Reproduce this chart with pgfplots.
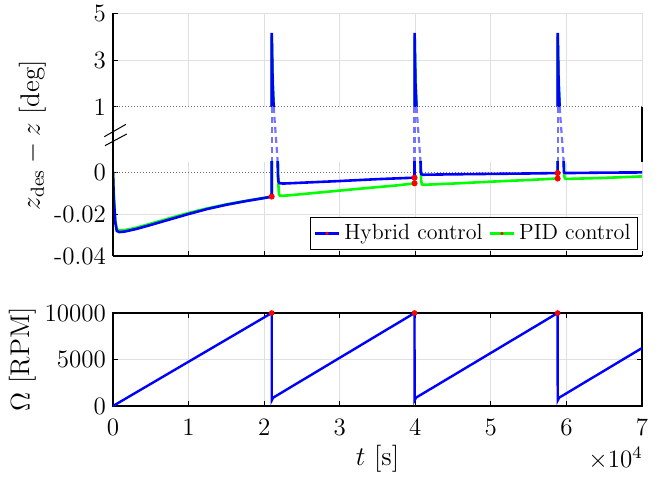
\RequirePackage{fix-cm}
\documentclass[border=0pt]{standalone}
\usepackage{fontspec}
\usepackage{pgfplots}
\usepackage{pgfplotstable}
\pgfplotsset{compat=1.18}
\definecolor{gridgray}{gray}{0.88}
\definecolor{dotgray}{gray}{0.45}

\pgfplotstableread{
t v
0 0
0.01 -0.012
0.03 -0.024
0.05 -0.0280
0.08 -0.0286
0.15 -0.0284
0.3 -0.0272
0.5 -0.0252
0.75 -0.0226
1.0 -0.0200
1.25 -0.0176
1.5 -0.0156
1.75 -0.0139
2.0 -0.0124
2.100 -0.0117
2.101 4.15
2.112 2.0
2.126 1.0
2.179 0.005
2.183 -0.002
2.190 -0.0045
2.200 -0.0053
2.25 -0.0055
2.5 -0.0051
3.0 -0.0043
3.5 -0.0034
3.99 -0.0027
3.991 4.15
4.002 2.0
4.016 1.0
4.069 0.005
4.073 -0.0001
4.08 -0.0010
4.1 -0.0013
4.5 -0.0011
5.0 -0.0009
5.5 -0.0007
5.884 -0.0005
5.885 4.15
5.896 2.0
5.910 1.0
5.963 0.005
5.967 0.0000
5.975 -0.0004
6.0 -0.0005
6.5 -0.0003
7.0 -0.0002
}\hybrid

\pgfplotstableread{
t v
0 0
0.01 -0.011
0.03 -0.023
0.05 -0.0272
0.08 -0.0278
0.15 -0.0277
0.3 -0.0266
0.5 -0.0246
0.75 -0.0220
1.0 -0.0195
1.25 -0.0173
1.5 -0.0154
1.75 -0.0138
2.0 -0.0123
2.100 -0.0117
2.101 4.0
2.115 2.0
2.128 1.0
2.182 0.005
2.188 -0.006
2.196 -0.0105
2.21 -0.0113
2.3 -0.0112
2.75 -0.0097
3.25 -0.0080
3.75 -0.0064
3.99 -0.0054
3.991 4.0
4.005 2.0
4.018 1.0
4.072 0.005
4.078 -0.004
4.086 -0.0058
4.1 -0.0061
4.5 -0.0055
5.0 -0.0046
5.5 -0.0038
5.884 -0.0031
5.885 4.0
5.899 2.0
5.912 1.0
5.966 0.005
5.972 -0.002
5.980 -0.0031
6.0 -0.0033
6.5 -0.0028
7.0 -0.0021
}\pid

\pgfplotstableread{
t v
2.100 -0.0117
3.99 -0.0027
3.99 -0.0054
5.884 -0.0005
5.884 -0.0031
}\switchpts

\pgfplotstableread{
t w
0 0
2.100 10000
2.1005 600
2.12 900
3.99 10000
3.9905 600
4.01 900
5.884 10000
5.8845 600
5.904 900
7 6230
}\omega

\pgfplotsset{
  base/.style={
    scale only axis, width=264.5pt, xmin=0, xmax=7,
    anchor=south west,
    axis line style={draw=none},
    tick label style={font=\fontsize{12.5}{15}\selectfont},
    grid=major, grid style={gridgray, line width=0.5pt},
    major tick length=2.5pt, tick style={black, line width=0.5pt},
    xtick={0,...,7},
  }
}

\begin{document}
\begin{tikzpicture}
\useasboundingbox (-56.5pt,-35.5pt) rectangle (277pt,203pt);

% upper part of broken axis
\begin{axis}[base, at={(0pt,149.5pt)}, height=47pt,
  ymin=1, ymax=5, ytick={3,5},
  extra y ticks={1}, extra y tick style={grid=none},
  xticklabels={}, ytick pos=left, xtick style={draw=none}]
  \addplot[green, line width=1.3pt] table {\pid};
  \addplot[blue, line width=1.3pt] table {\hybrid};
  \draw[dotgray, densely dotted, line width=0.5pt] (rel axis cs:0,0) -- (rel axis cs:1,0);
\end{axis}

% gap between the two parts
\begin{axis}[scale only axis, width=264.5pt, height=27.25pt, at={(0pt,122.25pt)},
  anchor=south west, xmin=0, xmax=7, ymin=0, ymax=1, hide axis]
  \addplot[blue!55, dash pattern=on 3pt off 2pt, line width=1.1pt] coordinates {(2.100,1) (2.100,0)};
  \addplot[blue!55, dash pattern=on 3pt off 2pt, line width=1.1pt] coordinates {(2.126,1) (2.179,0)};
  \addplot[blue!55, dash pattern=on 3pt off 2pt, line width=1.1pt] coordinates {(3.990,1) (3.990,0)};
  \addplot[blue!55, dash pattern=on 3pt off 2pt, line width=1.1pt] coordinates {(4.016,1) (4.069,0)};
  \addplot[blue!55, dash pattern=on 3pt off 2pt, line width=1.1pt] coordinates {(5.884,1) (5.884,0)};
  \addplot[blue!55, dash pattern=on 3pt off 2pt, line width=1.1pt] coordinates {(5.910,1) (5.963,0)};
\end{axis}

% lower part of broken axis
\begin{axis}[base, at={(0pt,75pt)}, height=47.25pt,
  ymin=-0.04, ymax=0.005, ytick={-0.04,-0.02}, yticklabels={-0.04,-0.02},
  scaled y ticks=false,
  extra y ticks={0}, extra y tick labels={0}, extra y tick style={grid=none},
  xticklabels={}, ytick pos=left, xtick pos=bottom,
  legend style={at={(rel axis cs:0.9924,0.063)}, anchor=south east,
    draw=black, line width=0.5pt, fill=white,
    font=\fontsize{11}{13}\selectfont, inner sep=1.5pt,
    /tikz/every even column/.append style={column sep=1pt}},
  legend columns=2, legend cell align=left,
  legend image code/.code={\draw[#1, line width=1.3pt] (0pt,0pt) -- (12pt,0pt); \fill[red] (6pt,0pt) circle (0.5pt);}]
  \draw[dotgray, densely dotted, line width=0.5pt] (axis cs:0,0) -- (axis cs:7,0);
  \addplot[green, line width=1.3pt, forget plot] table {\pid};
  \addplot[blue, line width=1.3pt, forget plot] table {\hybrid};
  \addplot[only marks, red, mark=*, mark size=1.3pt, forget plot] table {\switchpts};
  \addlegendimage{blue}
  \addlegendentry{Hybrid control}
  \addlegendimage{green}
  \addlegendentry{PID control}
\end{axis}

% rotor speed
\begin{axis}[base, at={(0pt,0pt)}, height=46.5pt,
  axis line style={draw=black, line width=0.6pt},
  ymin=0, ymax=10000, ytick={0,5000,10000},
  yticklabel style={/pgf/number format/1000 sep={}}, scaled y ticks=false,
  xticklabel style={yshift=-3pt},
  clip mode=individual]
  \addplot[blue, line width=1.2pt] table {\omega};
  \addplot[only marks, red, mark=*, mark size=1.2pt] coordinates {(2.100,10000) (3.99,10000) (5.884,10000)};
\end{axis}

% spines of the broken axis
\draw[black, line width=0.6pt] (0pt,75pt) -- (0pt,196.5pt);
\draw[black, line width=0.6pt] (0pt,75pt) -- (264.5pt,75pt);
\draw[black, line width=0.6pt] (264.5pt,122.25pt) -- (264.5pt,149.5pt);
% break marks
\draw[black, line width=0.5pt] (-4.35pt,134.65pt) -- (6.5pt,140.85pt);
\draw[black, line width=0.5pt] (-4pt,130.15pt) -- (6.85pt,136pt);

% labels
\node[rotate=90, font=\fontsize{13.5}{16}\selectfont] at (-45pt,23.25pt) {$\Omega$ [RPM]};
\node[rotate=90, font=\fontsize{13.5}{16}\selectfont] at (-40pt,135.5pt) {$z_{\mathrm{des}}-z$ [deg]};
\node[font=\fontsize{13.5}{16}\selectfont] at (132.25pt,-26.5pt) {$t$ [s]};
\node[anchor=east, font=\fontsize{12.5}{15}\selectfont, inner sep=0pt] at (265pt,-26pt) {$\times10^{4}$};
\end{tikzpicture}
\end{document}
